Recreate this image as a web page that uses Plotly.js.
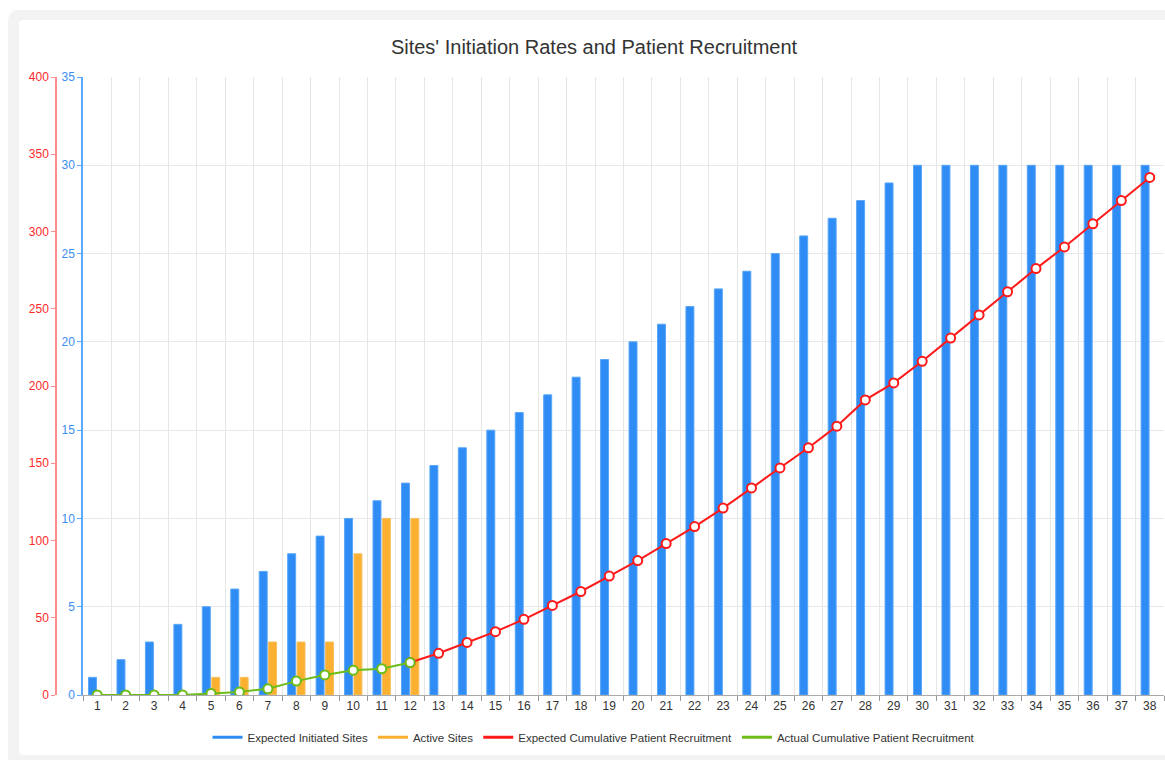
<!DOCTYPE html>
<html>
<head>
<meta charset="utf-8">
<script src="https://cdn.plot.ly/plotly-3.0.1.min.js"></script>
<style>
  html, body { margin:0; padding:0; width:1165px; height:760px; overflow:hidden; background:#ffffff; font-family:"Liberation Sans", Arial, sans-serif; }
  #frame { position:absolute; left:8px; top:10px; width:1220px; height:760px; background:#f3f3f3; border-radius:10px; }
  #card { position:absolute; left:19px; top:20px; width:1200px; height:735px; background:#ffffff; border-radius:4px; }
  #chart { position:absolute; left:0; top:0; width:1165px; height:760px; }
</style>
</head>
<body>
<div id="frame"></div>
<div id="card"></div>
<div id="chart"></div>
<script>
const months = ['1','2','3','4','5','6','7','8','9','10','11','12','13','14','15','16','17','18','19','20','21','22','23','24','25','26','27','28','29','30','31','32','33','34','35','36','37','38'];
const expectedSites = [1,2,3,4,5,6,7,8,9,10,11,12,13,14,15,16,17,18,19,20,21,22,23,24,25,26,27,28,29,30,30,30,30,30,30,30,30,30];
const activeSites = [0,0,0,0,1,1,3,3,3,8,10,10];
const expectedRecruitment = [null,null,null,null,null,null,null,null,null,null,null,21,27,34,41,49,58,67,77,87,98,109,121,134,147,160,174,191,202,216,231,246,261,276,290,305,320,335];
const actualRecruitment = [0,0,0,0,1,2,4,9,13,16,17,21];

const seriesNames = ['Expected Initiated Sites','Active Sites','Expected Cumulative Patient Recruitment','Actual Cumulative Patient Recruitment'];
const colors = ['#2e8cf4','#fbb032','#ff1a1a','#6cbd17'];

const W = 1165, ML = 20, MR = 0;
const pw = W - ML - MR;
const px = v => (v - ML) / pw;

const traces = [
  { type:'bar', name:seriesNames[0], x:months, y:expectedSites, yaxis:'y', showlegend:false,
    marker:{ color:colors[0], line:{ color:'#5aa6f7', width:1 } }, hoverinfo:'x+y' },
  { type:'bar', name:seriesNames[1], x:months.slice(0, activeSites.length), y:activeSites, yaxis:'y', showlegend:false,
    marker:{ color:colors[1], line:{ color:'#f6c060', width:1 } }, hoverinfo:'x+y' },
  { type:'scatter', mode:'lines+markers', name:seriesNames[2], x:months, y:expectedRecruitment, yaxis:'y2', showlegend:false,
    line:{ color:colors[2], width:2 }, marker:{ symbol:'circle', size:9, color:'#ffffff', line:{ color:colors[2], width:2 } } },
  { type:'scatter', mode:'lines+markers', name:seriesNames[3], x:months.slice(0, actualRecruitment.length), y:actualRecruitment, yaxis:'y2', showlegend:false,
    line:{ color:colors[3], width:2 }, marker:{ symbol:'circle', size:9, color:'#ffffff', line:{ color:colors[3], width:2 } } }
];
// legend-only entries (short line swatches like the reference)
seriesNames.forEach((n, i) => {
  traces.push({ type:'scatter', mode:'lines', name:n, x:[months[0]], y:[null], yaxis:'y2',
    line:{ color:colors[i], width:3 }, hoverinfo:'skip', showlegend:true });
});

const layout = {
  width: W, height: 760,
  paper_bgcolor:'rgba(0,0,0,0)', plot_bgcolor:'rgba(0,0,0,0)',
  font:{ family:'"Liberation Sans", Arial, sans-serif', size:12, color:'#333333' },
  margin:{ l:ML, r:MR, t:77, b:65 },
  title:{ text:"Sites' Initiation Rates and Patient Recruitment", x:594/W, xref:'container', xanchor:'center',
          y:1-47/760, yref:'container', yanchor:'middle', font:{ size:20, color:'#333333' } },
  barmode:'group', bargap:0.34, bargroupgap:0.15,
  xaxis:{ domain:[px(83), px(1164)], type:'category', range:[-0.5, months.length - 0.5], autorange:false,
          tickson:'boundaries', ticks:'outside', ticklen:5,
          tickcolor:'#999999', showgrid:true, gridcolor:'#e6e6e6', gridwidth:1,
          showline:true, linecolor:'#aaaaaa', linewidth:1, zeroline:false,
          tickfont:{ size:12, color:'#333333' }, fixedrange:true },
  yaxis:{ range:[0,35], dtick:5, tick0:0, side:'left', anchor:'x',
          showline:true, linecolor:'#5aa8ff', linewidth:1.5, ticks:'outside', ticklen:4, tickcolor:'#5aa8ff',
          tickfont:{ size:12, color:'#3b8ef2' }, showgrid:true, gridcolor:'#e8e8e8', zeroline:false, fixedrange:true },
  yaxis2:{ range:[0,400], dtick:50, tick0:0, overlaying:'y', side:'left', anchor:'free', position:px(56),
          showline:true, linecolor:'#ff8c8c', linewidth:1.5, ticks:'outside', ticklen:4, tickcolor:'#ff8c8c',
          tickfont:{ size:12, color:'#ff2a2a' }, showgrid:false, zeroline:false, fixedrange:true },
  legend:{ orientation:'h', x:px(594), xanchor:'center', y:-0.045, yanchor:'top',
           font:{ size:11.5, color:'#333333' }, itemwidth:30, tracegroupgap:0, bgcolor:'rgba(0,0,0,0)' },
  showlegend:true
};

Plotly.newPlot('chart', traces, layout, { displayModeBar:false, staticPlot:false });
</script>
</body>
</html>
